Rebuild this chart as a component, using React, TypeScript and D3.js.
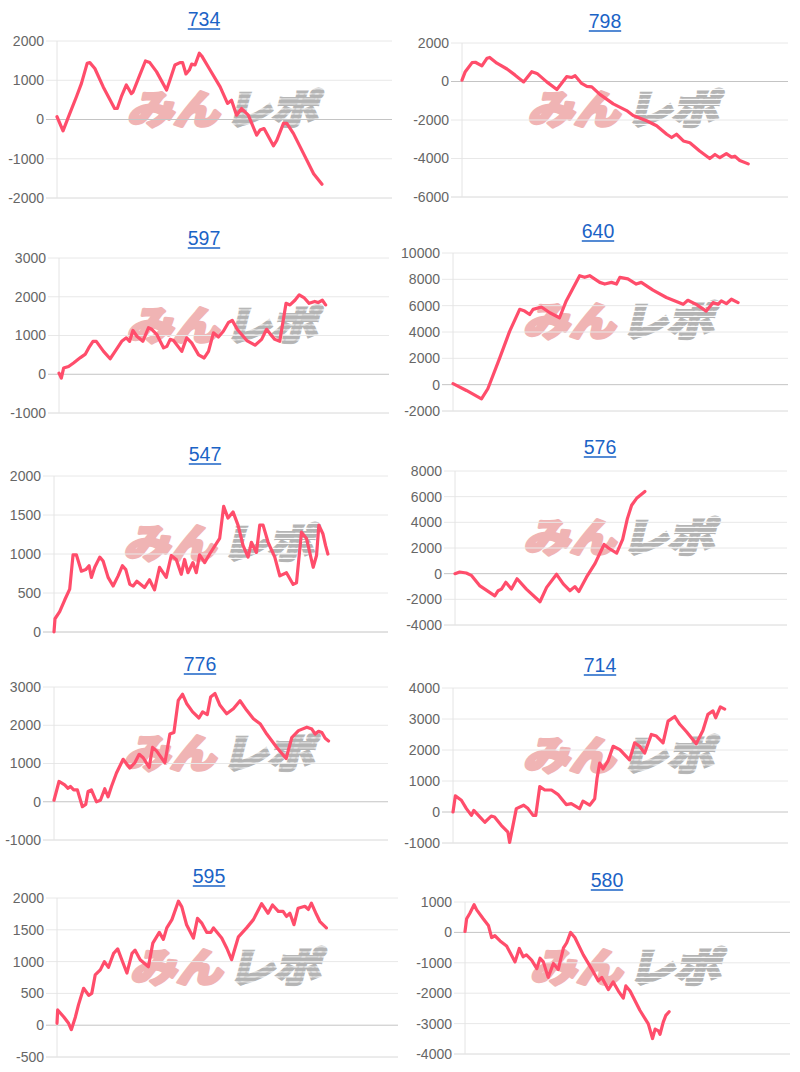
import React from 'react';
import * as d3 from 'd3';

type Pt = [number, number];

const titles = ['734', '798', '597', '640', '547', '576', '776', '714', '595', '580'];

const ticks734 = [2000, 1000, 0, -1000, -2000];
const ticks798 = [2000, 0, -2000, -4000, -6000];
const ticks597 = [3000, 2000, 1000, 0, -1000];
const ticks640 = [10000, 8000, 6000, 4000, 2000, 0, -2000];
const ticks547 = [2000, 1500, 1000, 500, 0];
const ticks576 = [8000, 6000, 4000, 2000, 0, -2000, -4000];
const ticks776 = [3000, 2000, 1000, 0, -1000];
const ticks714 = [4000, 3000, 2000, 1000, 0, -1000];
const ticks595 = [2000, 1500, 1000, 500, 0, -500];
const ticks580 = [1000, 0, -1000, -2000, -3000, -4000];

// x: progress along the x axis (0-100), y: value
const s734: Pt[] = [[0,70],[1.8,-290],[3.8,150],[5.8,580],[7.3,920],[9,1430],[9.8,1450],[11.3,1300],[13.8,830],[17.2,280],[18,280],[19.2,580],[20.7,880],[22.2,660],[22.7,700],[24.7,1130],[26.4,1490],[27.7,1450],[29.7,1220],[32.7,750],[33.7,1000],[35.2,1390],[36.7,1450],[37.5,1450],[38.5,1160],[39.5,1260],[40.2,1410],[41.2,1390],[42.5,1690],[43.2,1620],[45.7,1260],[48.7,830],[50.9,410],[52.1,490],[53.6,110],[55.1,280],[57.1,110],[59.6,-400],[60.6,-270],[61.8,-230],[64.6,-670],[65.6,-530],[67.6,-100],[68.6,-100],[70.6,-360],[73.6,-870],[76.6,-1380],[79.1,-1650]];
const s798: Pt[] = [[0,70],[1,510],[3.1,980],[4.1,1000],[6.1,810],[7.7,1210],[8.5,1250],[10.7,950],[13.8,650],[16.3,330],[18.9,-20],[21.4,510],[23,420],[26,-20],[29.1,-420],[32.1,250],[33.7,210],[34.7,300],[36.7,-100],[38.3,-250],[39.8,-280],[42.3,-670],[46.4,-1160],[50.5,-1510],[52.5,-1770],[56.6,-2040],[59.7,-2300],[62.8,-2740],[64.3,-2910],[65.8,-2740],[67.9,-3090],[69.9,-3180],[72.9,-3610],[76,-4000],[77.6,-3790],[79.1,-3960],[81.1,-3750],[82.7,-3930],[83.7,-3880],[85.2,-4100],[87.8,-4280]];
const s597: Pt[] = [[0,30],[0.7,-100],[1.4,160],[2.9,200],[4.4,290],[6.5,430],[8,520],[9,680],[10.3,850],[11.3,850],[13.5,590],[15.5,400],[17,590],[19,850],[20.4,940],[21.4,850],[22.4,1130],[23.6,980],[25.4,850],[27.1,1200],[28.1,1160],[29.6,1030],[31.7,680],[32.7,720],[33.7,900],[34.7,870],[37.2,590],[38.7,940],[40.2,810],[42.3,500],[44,420],[45.3,590],[46.8,1070],[48.3,960],[49.8,1110],[51.3,1330],[52.5,1390],[54,1160],[56.9,870],[59.4,750],[61.4,900],[62.9,1160],[64.1,1030],[65.4,900],[66.9,850],[68.8,1830],[70,1790],[71.5,1910],[72.8,2050],[74.2,1980],[75.8,1830],[77.5,1880],[78.5,1850],[79.8,1910],[80.8,1790]];
const s640: Pt[] = [[0,80],[4,-440],[8.5,-1080],[10.4,-310],[13.9,2000],[16.9,4050],[19.9,5720],[21.4,5590],[22.9,5330],[23.9,5720],[26.4,5900],[28.9,5460],[31.8,5080],[33.8,6360],[37.8,8280],[39.3,8150],[40.8,8280],[43.8,7770],[45.3,7640],[47.3,7770],[48.8,7640],[49.8,8150],[52.2,8030],[54.7,7640],[56.2,7770],[59.7,7180],[63.7,6620],[68.7,6100],[70.1,6410],[72.6,6100],[75.6,5590],[77.6,6230],[79.1,6100],[80.1,6360],[81.6,6150],[83.1,6490],[85.1,6230]];
const s547: Pt[] = [[0,0],[0.3,170],[1.7,260],[3.2,410],[4.7,550],[5.7,990],[6.7,990],[8.2,780],[9.5,800],[10.5,850],[11.2,700],[12.2,830],[13.7,960],[14.7,910],[16.2,700],[17.7,590],[19.2,720],[20.5,850],[21.5,800],[22.7,610],[23.7,590],[24.8,650],[27.1,570],[28.6,670],[30.1,540],[31.6,830],[33.6,700],[35.1,980],[36.6,930],[38.1,740],[39.1,930],[40.1,760],[41.6,890],[42.6,760],[43.6,990],[45.1,890],[46.6,1000],[49.6,1200],[50.8,1610],[52.1,1460],[53.6,1540],[55.1,1370],[56.6,1110],[58.1,960],[59.1,1150],[60.6,1020],[61.6,1370],[62.6,1370],[64.1,1150],[66.1,960],[67.6,720],[69.6,760],[71.6,610],[72.6,630],[74.1,1280],[75.6,1200],[77.6,830],[78.6,980],[79.3,1370],[80.5,1260],[81.3,1110],[82,1000]];
const s576: Pt[] = [[0,0],[1.4,130],[3.4,50],[4.9,-130],[7.4,-930],[12,-1730],[13,-1330],[14,-1200],[15.3,-670],[17,-1200],[18.7,-400],[21.5,-1200],[25.6,-2190],[27.6,-1070],[30.6,-50],[32.6,-800],[34.6,-1330],[36.1,-1010],[37.3,-1390],[39.6,-270],[42.2,800],[44.9,2270],[46.2,2000],[48.7,1600],[50.5,2670],[51.9,4270],[53.2,5330],[54.7,5870],[57.2,6400]];
const s776: Pt[] = [[0,40],[1.5,530],[3.2,440],[4.2,350],[4.9,400],[5.9,310],[7,310],[8.5,-130],[9.5,-70],[10.2,270],[11.2,310],[12.7,0],[13.9,40],[15.2,340],[16.2,130],[17.2,400],[18.7,750],[20.7,1110],[22.7,880],[24.2,1020],[25.5,1240],[26.7,1150],[28.5,900],[29.5,1420],[30.7,1330],[33.2,1020],[34.7,1770],[35.9,1810],[37.2,2650],[38.5,2810],[39.7,2570],[41.5,2350],[43.4,2190],[44.5,2350],[45.9,2280],[46.9,2740],[48.2,2830],[49.7,2520],[51.7,2300],[53.7,2430],[55.7,2640],[57.7,2390],[59.7,2170],[61.7,2040],[63.7,1770],[66.7,1420],[69.5,1130],[71.2,1680],[73.2,1860],[75.7,1950],[77.2,1900],[78.2,1770],[79.2,1840],[80.2,1810],[81.2,1660],[82.2,1590]];
const s714: Pt[] = [[0,0],[0.7,520],[2.5,380],[4,110],[5.5,-110],[6.2,50],[8,-160],[9.5,-330],[11.4,-130],[12.4,-160],[14.4,-430],[16.4,-650],[16.9,-980],[18.9,110],[21.1,220],[22.4,110],[23.9,-110],[24.7,-110],[25.9,820],[27.4,710],[29.4,710],[31.3,570],[33.8,240],[35.3,270],[37.8,110],[38.8,350],[40.8,220],[42.3,430],[43,1090],[43.8,1580],[44.8,1390],[46.3,1650],[47.8,2120],[49.8,2010],[52.7,1680],[54.2,2230],[55.7,2120],[57.2,1900],[59.2,2500],[60.7,2450],[62.7,2230],[64.2,2930],[66.2,3080],[67.7,2830],[69.7,2590],[72.6,2200],[74.6,2630],[76.1,3150],[77.6,3260],[78.4,3040],[79.8,3390],[81.1,3320]];
const s595: Pt[] = [[0,30],[0.2,240],[2,130],[3.4,30],[4.2,-70],[5.4,130],[6.3,320],[7.8,580],[9.3,470],[10.2,500],[11.2,790],[12.7,870],[13.9,1000],[15.1,910],[16.6,1130],[17.8,1200],[19,1030],[20.5,820],[22,1130],[22.9,1180],[24.4,1030],[26.8,920],[28.1,1290],[30,1460],[31.2,1350],[32.2,1530],[33.7,1660],[35.6,1950],[36.6,1860],[38,1580],[40,1370],[41.2,1680],[42.4,1610],[43.9,1460],[45.1,1460],[45.9,1530],[48.3,1370],[49.8,1210],[51.2,1030],[53.2,1390],[55.6,1530],[57.6,1660],[60,1910],[61.9,1760],[63.2,1890],[64.9,1790],[66.3,1790],[67.3,1710],[68.3,1760],[69.5,1580],[70.7,1840],[72.7,1870],[73.7,1820],[74.6,1920],[76.1,1740],[77.1,1630],[79,1530]];
const s580: Pt[] = [[0,30],[0.5,450],[1.5,630],[2.8,910],[3.6,740],[5.6,450],[7.2,230],[8.2,-170],[9.2,-110],[10.8,-280],[12.8,-450],[15.4,-970],[16.7,-530],[17.9,-800],[18.9,-740],[20.5,-910],[22.1,-1190],[23.1,-850],[24.1,-970],[25.6,-1480],[27.2,-1020],[28.7,-1220],[30.3,-510],[31.3,-340],[32.5,0],[33.8,-170],[36.4,-740],[38.9,-1190],[41,-1590],[42.1,-1480],[44.1,-1880],[45.6,-1630],[47.2,-1930],[48.7,-2160],[49.5,-1760],[50.8,-1930],[53.8,-2560],[56.4,-3010],[57.7,-3490],[58.5,-3180],[59.5,-3240],[60,-3350],[61,-2950],[61.8,-2730],[62.8,-2610]];

const tickSets = [ticks734, ticks798, ticks597, ticks640, ticks547, ticks576, ticks776, ticks714, ticks595, ticks580];
const seriesSets = [s734, s798, s597, s640, s547, s576, s776, s714, s595, s580];

// layout (pixel boxes of each plot area and title position)
const layouts = [
  { l: 57, r: 392, t: 41, b: 198, tx: 204, ty: 26 },
  { l: 462, r: 788, t: 43, b: 197, tx: 605, ty: 28 },
  { l: 59, r: 389, t: 258, b: 413, tx: 204, ty: 245 },
  { l: 453, r: 788, t: 253, b: 411, tx: 598, ty: 238 },
  { l: 54, r: 388, t: 476, b: 632, tx: 205, ty: 461 },
  { l: 455, r: 787, t: 471, b: 625, tx: 600, ty: 454 },
  { l: 54, r: 388, t: 687, b: 840, tx: 200, ty: 671 },
  { l: 453, r: 788, t: 688, b: 843, tx: 600, ty: 672 },
  { l: 57, r: 398, t: 898, b: 1057, tx: 209, ty: 883 },
  { l: 465, r: 790, t: 902, b: 1054, tx: 607, ty: 887 },
];

const FONT = '"Liberation Sans", Arial, Helvetica, sans-serif';
const LINE_COLOR = '#ff4d6b';
const WM_FONT = '"Noto Sans CJK JP", sans-serif';

function Watermark({ cx, cy }: { cx: number; cy: number }) {
  return (
    <g transform={`translate(${cx},${cy})`}>
      <g transform="skewX(-14)">
        <text x={-2} y={14} textAnchor="end" fontFamily={WM_FONT} fontWeight={900}
          fontSize={40} fill="#f0b4b4" stroke="#f0b4b4" strokeWidth={3} strokeLinejoin="round"
          textLength={92} lengthAdjust="spacingAndGlyphs">みん</text>
        <text x={4} y={14} textAnchor="start" fontFamily={WM_FONT} fontWeight={900}
          fontSize={40} fill="url(#wmStripe)" stroke="url(#wmStripe)" strokeWidth={3}
          textLength={92} lengthAdjust="spacingAndGlyphs">レポ</text>
      </g>
    </g>
  );
}

function Panel({ idx }: { idx: number }) {
  const L = layouts[idx];
  const ticks = tickSets[idx];
  const data = seriesSets[idx];
  const [mn, mx] = d3.extent(ticks) as [number, number];
  const y = d3.scaleLinear().domain([mn, mx]).range([L.b, L.t]);
  const x = d3.scaleLinear().domain([0, 100]).range([L.l, L.r]);
  const line = d3.line<Pt>().x(d => x(d[0])).y(d => y(d[1]));
  const titleW = titles[idx].length * 10.8;
  return (
    <g>
      <text x={L.tx} y={L.ty} textAnchor="middle" fontFamily={FONT} fontSize={19.5} fill="#1b63c6">{titles[idx]}</text>
      <line x1={L.tx - titleW / 2} x2={L.tx + titleW / 2} y1={L.ty + 3} y2={L.ty + 3} stroke="#1b63c6" strokeWidth={1.4} />
      <Watermark cx={(L.l + L.r) / 2} cy={(L.t + L.b) / 2 - 10} />
      {ticks.map(v => (
        <g key={v}>
          <line x1={L.l - 11} x2={L.r} y1={y(v)} y2={y(v)}
            stroke={v === 0 ? '#c4c4c4' : v === mn ? '#d8d8d8' : '#e8e8e8'} strokeWidth={1} />
          <text x={L.l - 13} y={y(v)} dy="0.35em" textAnchor="end" fontFamily={FONT} fontSize={14} fill="#666">{v}</text>
        </g>
      ))}
      <line x1={L.l} x2={L.l} y1={L.t} y2={L.b} stroke="#e4e4e4" strokeWidth={1} />
      <path d={line(data) || ''} fill="none" stroke={LINE_COLOR} strokeWidth={3.2} strokeLinejoin="round" strokeLinecap="round" />
    </g>
  );
}

export default function App() {
  return (
    <svg width={800} height={1072} viewBox="0 0 800 1072"
      style={{ position: 'absolute', left: 0, top: 0, background: '#fff' }}>
      <defs>
        <pattern id="wmStripe" patternUnits="userSpaceOnUse" width={8} height={5}>
          <rect x={0} y={0} width={8} height={3.8} fill="#b4b4b4" />
        </pattern>
      </defs>
      <rect x={0} y={0} width={800} height={1072} fill="#fff" />
      {titles.map((_, i) => <Panel key={i} idx={i} />)}
    </svg>
  );
}
